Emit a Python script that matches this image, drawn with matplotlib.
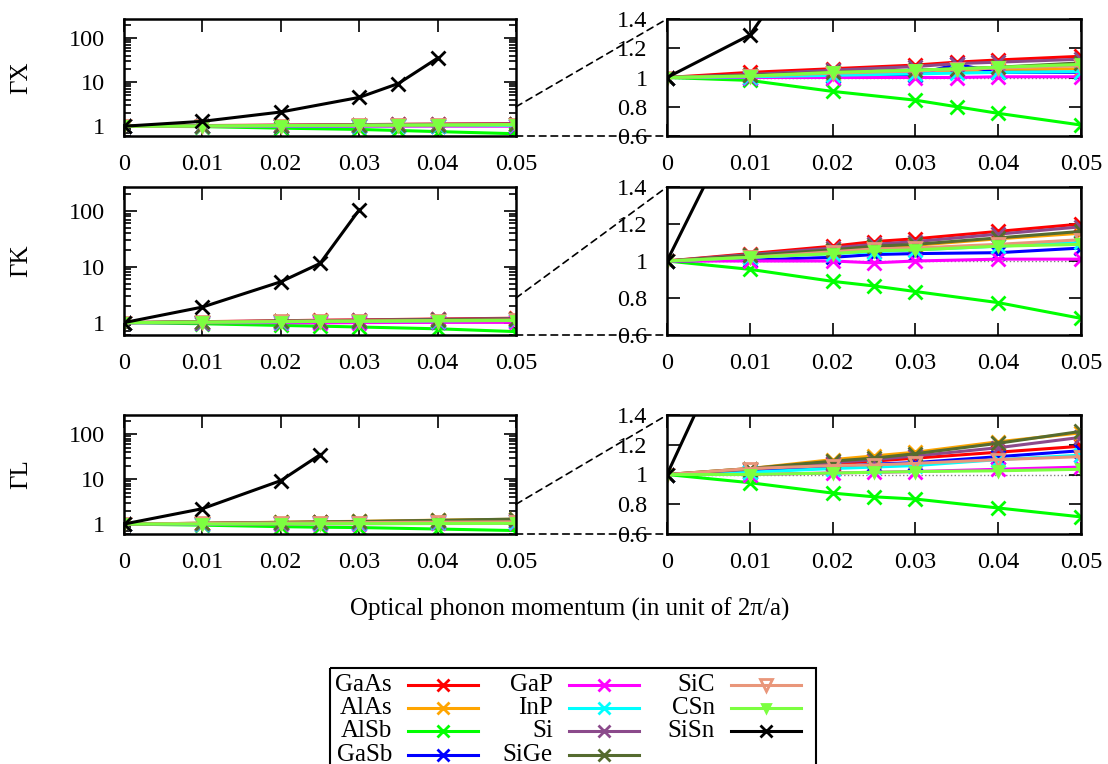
import numpy as np
import matplotlib
matplotlib.use("Agg")
import matplotlib.pyplot as plt
from matplotlib.patches import ConnectionPatch, Rectangle
from matplotlib.ticker import FixedLocator, FuncFormatter, LogLocator, NullFormatter

plt.rcParams["font.family"] = ["Liberation Serif", "DejaVu Serif"]

# ---------------- data ----------------
materials = ["GaAs", "AlAs", "AlSb", "GaSb", "GaP", "InP", "Si", "SiGe", "SiC", "CSn", "SiSn"]

x_GX = [0, 0.01, 0.02, 0.03, 0.035, 0.04, 0.05]
x_GK = [0, 0.01, 0.02, 0.025, 0.03, 0.04, 0.05]
x_GL = [0, 0.01, 0.02, 0.025, 0.03, 0.04, 0.05]

GX = {
    "GaAs": [1, 1.035, 1.06, 1.085, 1.105, 1.12, 1.145],
    "AlAs": [1, 1.01, 1.025, 1.035, 1.04, 1.05, 1.06],
    "AlSb": [1, 0.98, 0.905, 0.845, 0.80, 0.755, 0.675],
    "GaSb": [1, 1.0, 1.01, 1.02, 1.09, 1.035, 1.035],
    "GaP":  [1, 1.0, 1.0, 1.0, 1.0, 1.005, 1.005],
    "InP":  [1, 1.005, 1.015, 1.025, 1.03, 1.035, 1.04],
    "Si":   [1, 1.02, 1.05, 1.075, 1.095, 1.105, 1.125],
    "SiGe": [1, 1.015, 1.035, 1.05, 1.06, 1.07, 1.10],
    "SiC":  [1, 1.01, 1.03, 1.045, 1.055, 1.065, 1.08],
    "CSn":  [1, 1.01, 1.035, 1.05, 1.06, 1.07, 1.09],
}
GX_SiSn_x = [0, 0.01, 0.02, 0.03, 0.035, 0.04]
GX_SiSn = [1, 1.29, 2.1, 4.5, 9.3, 35]

GK = {
    "GaAs": [1, 1.04, 1.08, 1.105, 1.12, 1.16, 1.20],
    "AlAs": [1, 1.03, 1.06, 1.075, 1.085, 1.12, 1.15],
    "AlSb": [1, 0.955, 0.89, 0.865, 0.835, 0.775, 0.69],
    "GaSb": [1, 1.005, 1.02, 1.035, 1.04, 1.045, 1.07],
    "GaP":  [1, 1.0, 1.0, 0.99, 1.0, 1.01, 1.01],
    "InP":  [1, 1.02, 1.04, 1.05, 1.06, 1.08, 1.10],
    "Si":   [1, 1.035, 1.07, 1.09, 1.105, 1.145, 1.185],
    "SiGe": [1, 1.03, 1.06, 1.08, 1.09, 1.125, 1.16],
    "SiC":  [1, 1.02, 1.05, 1.065, 1.07, 1.09, 1.115],
    "CSn":  [1, 1.02, 1.04, 1.055, 1.06, 1.08, 1.09],
}
GK_SiSn_x = [0, 0.01, 0.02, 0.025, 0.03]
GK_SiSn = [1, 1.9, 5.4, 11.5, 105]

GL = {
    "GaAs": [1, 1.03, 1.07, 1.09, 1.11, 1.15, 1.19],
    "AlAs": [1, 1.04, 1.10, 1.125, 1.15, 1.22, 1.28],
    "AlSb": [1, 0.945, 0.875, 0.85, 0.835, 0.775, 0.715],
    "GaSb": [1, 1.02, 1.05, 1.07, 1.08, 1.12, 1.16],
    "GaP":  [1, 1.0, 1.01, 1.015, 1.02, 1.035, 1.05],
    "InP":  [1, 1.015, 1.04, 1.05, 1.06, 1.10, 1.13],
    "Si":   [1, 1.035, 1.08, 1.10, 1.125, 1.18, 1.25],
    "SiGe": [1, 1.04, 1.09, 1.11, 1.14, 1.21, 1.29],
    "SiC":  [1, 1.04, 1.06, 1.065, 1.075, 1.10, 1.12],
    "CSn":  [1, 1.0, 1.01, 1.015, 1.02, 1.025, 1.035],
}
GL_SiSn_x = [0, 0.01, 0.02, 0.025]
GL_SiSn = [1, 2.2, 9.3, 35]

row_labels = ["ΓX", "ΓK", "ΓL"]
xticks = [0, 0.01, 0.02, 0.03, 0.04, 0.05]

# ---------------- styles ----------------
styles = {
    "GaAs": dict(color="#ff0000", marker="x"),
    "AlAs": dict(color="#ffa500", marker="x"),
    "AlSb": dict(color="#00ff00", marker="x"),
    "GaSb": dict(color="#0000ff", marker="x"),
    "GaP":  dict(color="#ff00ff", marker="x"),
    "InP":  dict(color="#00ffff", marker="x"),
    "Si":   dict(color="#8b4a8b", marker="x"),
    "SiGe": dict(color="#556b2f", marker="x"),
    "SiC":  dict(color="#e9967a", marker="v", mfc="none", ms=9),
    "CSn":  dict(color="#7cff40", marker="v", ms=7),
    "SiSn": dict(color="#000000", marker="x"),
}

W, H = 1108, 764
fig = plt.figure(figsize=(W / 100, H / 100), dpi=100)


def px_rect(x0, y0, x1, y1):
    return [x0 / W, 1 - y1 / H, (x1 - x0) / W, (y1 - y0) / H]


rows_px = [(19, 136), (187, 335), (415, 534)]
datasets = [(x_GX, GX, GX_SiSn_x, GX_SiSn),
            (x_GK, GK, GK_SiSn_x, GK_SiSn),
            (x_GL, GL, GL_SiSn_x, GL_SiSn)]

FS = 17.5


def style_ax(ax):
    ax.set_xlim(0, 0.05)
    ax.xaxis.set_major_locator(FixedLocator(xticks))
    ax.xaxis.set_major_formatter(FuncFormatter(lambda v, p: "%g" % v))
    ax.tick_params(which="both", direction="in", top=True, right=True,
                   labelsize=FS, width=1.2)
    ax.tick_params(which="major", length=9)
    ax.tick_params(which="minor", length=5)
    ax.tick_params(axis="x", which="major", pad=13)
    ax.tick_params(axis="y", which="major", pad=14)
    for s in ax.spines.values():
        s.set_linewidth(1.8)


def draw(ax, xs, data, sx, sy):
    for m in materials[:-1]:
        st = styles[m]
        ax.plot(xs, data[m], color=st["color"], marker=st["marker"],
                ms=st.get("ms", 10), mew=2, mfc=st.get("mfc", st["color"]),
                lw=2.2)
    ax.plot(sx, sy, color="black", marker="x", ms=10, mew=2, lw=2.2)


for i, ((y0, y1), (xs, data, sx, sy)) in enumerate(zip(rows_px, datasets)):
    axL = fig.add_axes(px_rect(124, y0, 516, y1))
    axR = fig.add_axes(px_rect(667, y0, 1081, y1))

    # left: log scale, full range
    draw(axL, xs, data, sx, sy)
    axL.set_yscale("log")
    axL.set_ylim(0.6, 270)
    axL.yaxis.set_major_locator(FixedLocator([1, 10, 100]))
    axL.yaxis.set_major_formatter(FuncFormatter(lambda v, p: "%g" % v))
    axL.yaxis.set_minor_locator(LogLocator(subs=np.arange(2, 10)))
    axL.yaxis.set_minor_formatter(NullFormatter())
    style_ax(axL)
    fig.text(21 / W, 1 - (y0 + y1) / 2 / H, row_labels[i], rotation=90,
             ha="center", va="center", fontsize=FS + 0.5)

    # right: linear zoom
    axR.axhline(1, color="gray", ls=":", lw=1, zorder=1)
    draw(axR, xs, data, sx, sy)
    axR.set_ylim(0.6, 1.4)
    axR.yaxis.set_major_locator(FixedLocator([0.6, 0.8, 1.0, 1.2, 1.4]))
    axR.yaxis.set_major_formatter(FuncFormatter(lambda v, p: "%g" % round(v, 2)))
    style_ax(axR)

    for a, b in [((1, 0.25), (0, 1)), ((1, 0), (0, 0))]:
        con = ConnectionPatch(xyA=a, coordsA=axL.transAxes, xyB=b,
                              coordsB=axR.transAxes, ls=(0, (4, 3)),
                              lw=1.2, color="black")
        fig.add_artist(con)

fig.text(570 / W, 1 - 609 / H, "Optical phonon momentum (in unit of 2π/a)",
         ha="center", va="center", fontsize=18)

# ---------------- legend (gnuplot style, clipped at bottom) ----------------
lax = fig.add_axes([0, 0, 1, 1])
lax.set_xlim(0, W)
lax.set_ylim(H, 0)
lax.axis("off")
lax.add_patch(Rectangle((330, 668), 486, 120, fill=False, lw=1.5, ec="black"))
col_text = [392, 553, 715]
row_y = [685, 708, 731, 755]
for k, m in enumerate(materials):
    c, r = (k // 4, k % 4) if k < 8 else (2, k - 8)
    tx, ty = col_text[c], row_y[r]
    lax.text(tx, ty, m, ha="right", va="center", fontsize=18)
    st = styles[m]
    lax.plot([tx + 16, tx + 86], [ty, ty], color=st["color"], lw=2.2)
    lax.plot([tx + 51], [ty], color=st["color"], marker=st["marker"],
             ms=st.get("ms", 9) - 1, mew=2, mfc=st.get("mfc", st["color"]), ls="none")

fig.savefig("out.png", dpi=100)
